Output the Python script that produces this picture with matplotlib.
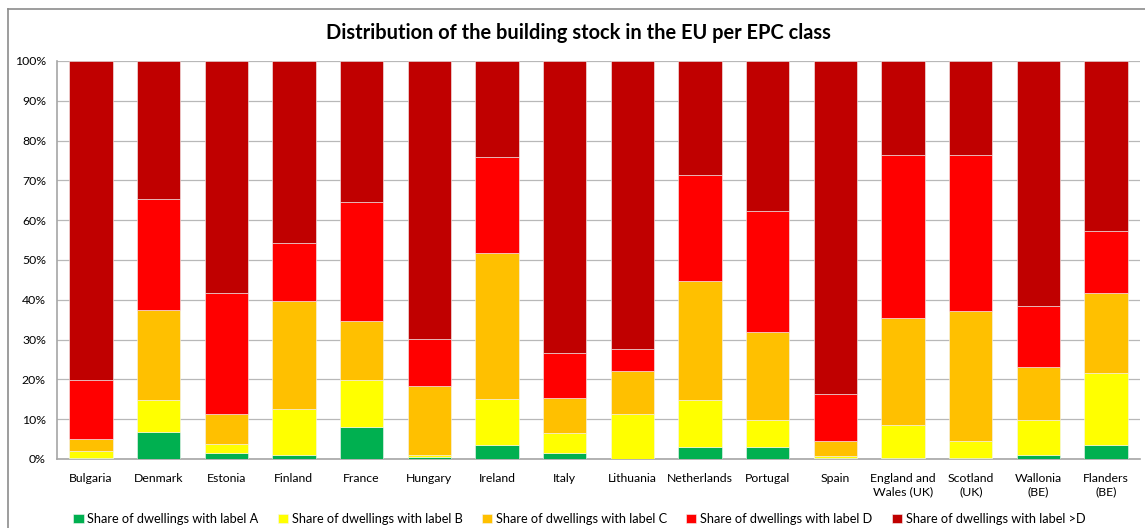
import matplotlib
matplotlib.use("Agg")
import matplotlib.pyplot as plt
import numpy as np
from matplotlib.lines import Line2D

plt.rcParams['font.family'] = ['Lato', 'DejaVu Sans']

# data (percent of dwellings per label)
countries = ["Bulgaria", "Denmark", "Estonia", "Finland", "France", "Hungary",
             "Ireland", "Italy", "Lithuania", "Netherlands", "Portugal", "Spain",
             "England and\nWales (UK)", "Scotland\n(UK)", "Wallonia\n(BE)", "Flanders\n(BE)"]
label_a = [0.3, 6.8, 1.5, 1.0, 8.0, 0.5, 3.4, 1.4, 0.0, 2.9, 2.9, 0.3, 0.2, 0.2, 0.9, 3.4]
label_b = [1.7, 8.0, 2.3, 11.6, 11.9, 0.5, 11.6, 5.1, 11.4, 11.9, 6.8, 0.5, 8.3, 4.2, 9.0, 18.2]
label_c = [3.0, 22.7, 7.4, 27.0, 14.7, 17.3, 36.7, 8.9, 10.6, 29.9, 22.2, 3.6, 26.8, 32.7, 13.3, 20.2]
label_d = [14.8, 27.7, 30.5, 14.6, 29.9, 11.9, 24.2, 11.2, 5.6, 26.6, 30.5, 12.0, 41.0, 39.4, 15.2, 15.6]
label_gt_d = [100 - a - b - c - d for a, b, c, d in zip(label_a, label_b, label_c, label_d)]

series = [label_a, label_b, label_c, label_d, label_gt_d]
names = ["Share of dwellings with label A", "Share of dwellings with label B",
         "Share of dwellings with label C", "Share of dwellings with label D",
         "Share of dwellings with label >D"]
colors = ["#00B050", "#FFFF00", "#FFC000", "#FF0000", "#C00000"]

fig = plt.figure(figsize=(11.45, 5.28), dpi=100)
ax = fig.add_axes([0.0498, 0.1307, 0.9458, 0.7538])

x = np.arange(len(countries))
bottom = np.zeros(len(countries))
for vals, col, nm in zip(series, colors, names):
    ax.bar(x, vals, 0.64, bottom=bottom, color=col, label=nm,
           edgecolor="#f4f4f4", linewidth=0.4, zorder=3)
    bottom += np.array(vals)

ax.set_xlim(-0.5, len(countries) - 0.5)
ax.set_ylim(0, 100)
ax.set_yticks(np.arange(0, 101, 10))
ax.set_yticklabels([f"{v}%" for v in range(0, 101, 10)], fontsize=8.8)
ax.set_xticks(x)
ax.set_xticklabels(countries, fontsize=8.8, va="top", linespacing=1.3)
ax.tick_params(axis="both", length=0, pad=8)
ax.tick_params(axis="x", pad=10)
ax.grid(axis="y", color="#b8b8b8", linewidth=0.9, zorder=0)
for s in ["top", "right"]:
    ax.spines[s].set_visible(False)
for s in ["left", "bottom"]:
    ax.spines[s].set_color("#a6a6a6")
    ax.spines[s].set_linewidth(1.2)

fig.text(0.505, 0.938, "Distribution of the building stock in the EU per EPC class",
         ha="center", va="center", fontsize=14.4, fontweight="bold")

# outer chart frame
fig.add_artist(Line2D([8 / 1145, 1], [1 - 9 / 528, 1 - 9 / 528], color="#8c8c8c", lw=1.2))
fig.add_artist(Line2D([8 / 1145, 8 / 1145], [0, 1 - 9 / 528], color="#8c8c8c", lw=1.2))

fig.legend(loc="center", bbox_to_anchor=(0.506, 0.017), ncol=5, frameon=False,
           fontsize=9.2, handlelength=0.8, handleheight=0.8, handletextpad=0.3,
           columnspacing=1.5)

fig.savefig("out.png", dpi=100)
